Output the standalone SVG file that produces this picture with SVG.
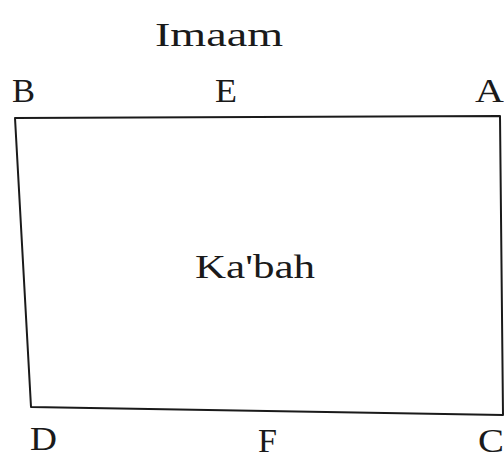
<svg xmlns="http://www.w3.org/2000/svg" width="504" height="461" viewBox="0 0 504 461">
<style>
text{font-family:"Liberation Serif","DejaVu Serif",serif;fill:#1a1a1a;font-size:33px}
.edge{fill:none;stroke:#1a1a1a;stroke-width:2;stroke-linejoin:round}
</style>
<rect width="504" height="461" fill="#fff"/>
<g id="connectors">
<path class="edge" d="M15,118 L500,116 L503,415 L31,407 Z"/>
</g>
<g id="imaam"><text x="155" y="46" textLength="128" lengthAdjust="spacingAndGlyphs">Imaam</text></g>
<g id="B"><text x="12" y="102" textLength="23" lengthAdjust="spacingAndGlyphs">B</text></g>
<g id="E"><text x="215" y="102" textLength="22" lengthAdjust="spacingAndGlyphs">E</text></g>
<g id="A"><text x="475" y="102" textLength="29" lengthAdjust="spacingAndGlyphs">A</text></g>
<g id="kabah"><text x="195" y="278" textLength="120" lengthAdjust="spacingAndGlyphs">Ka'bah</text></g>
<g id="D"><text x="30" y="450" textLength="27" lengthAdjust="spacingAndGlyphs">D</text></g>
<g id="F"><text x="258" y="452" textLength="19" lengthAdjust="spacingAndGlyphs">F</text></g>
<g id="C"><text x="478" y="452" textLength="26" lengthAdjust="spacingAndGlyphs">C</text></g>
</svg>
